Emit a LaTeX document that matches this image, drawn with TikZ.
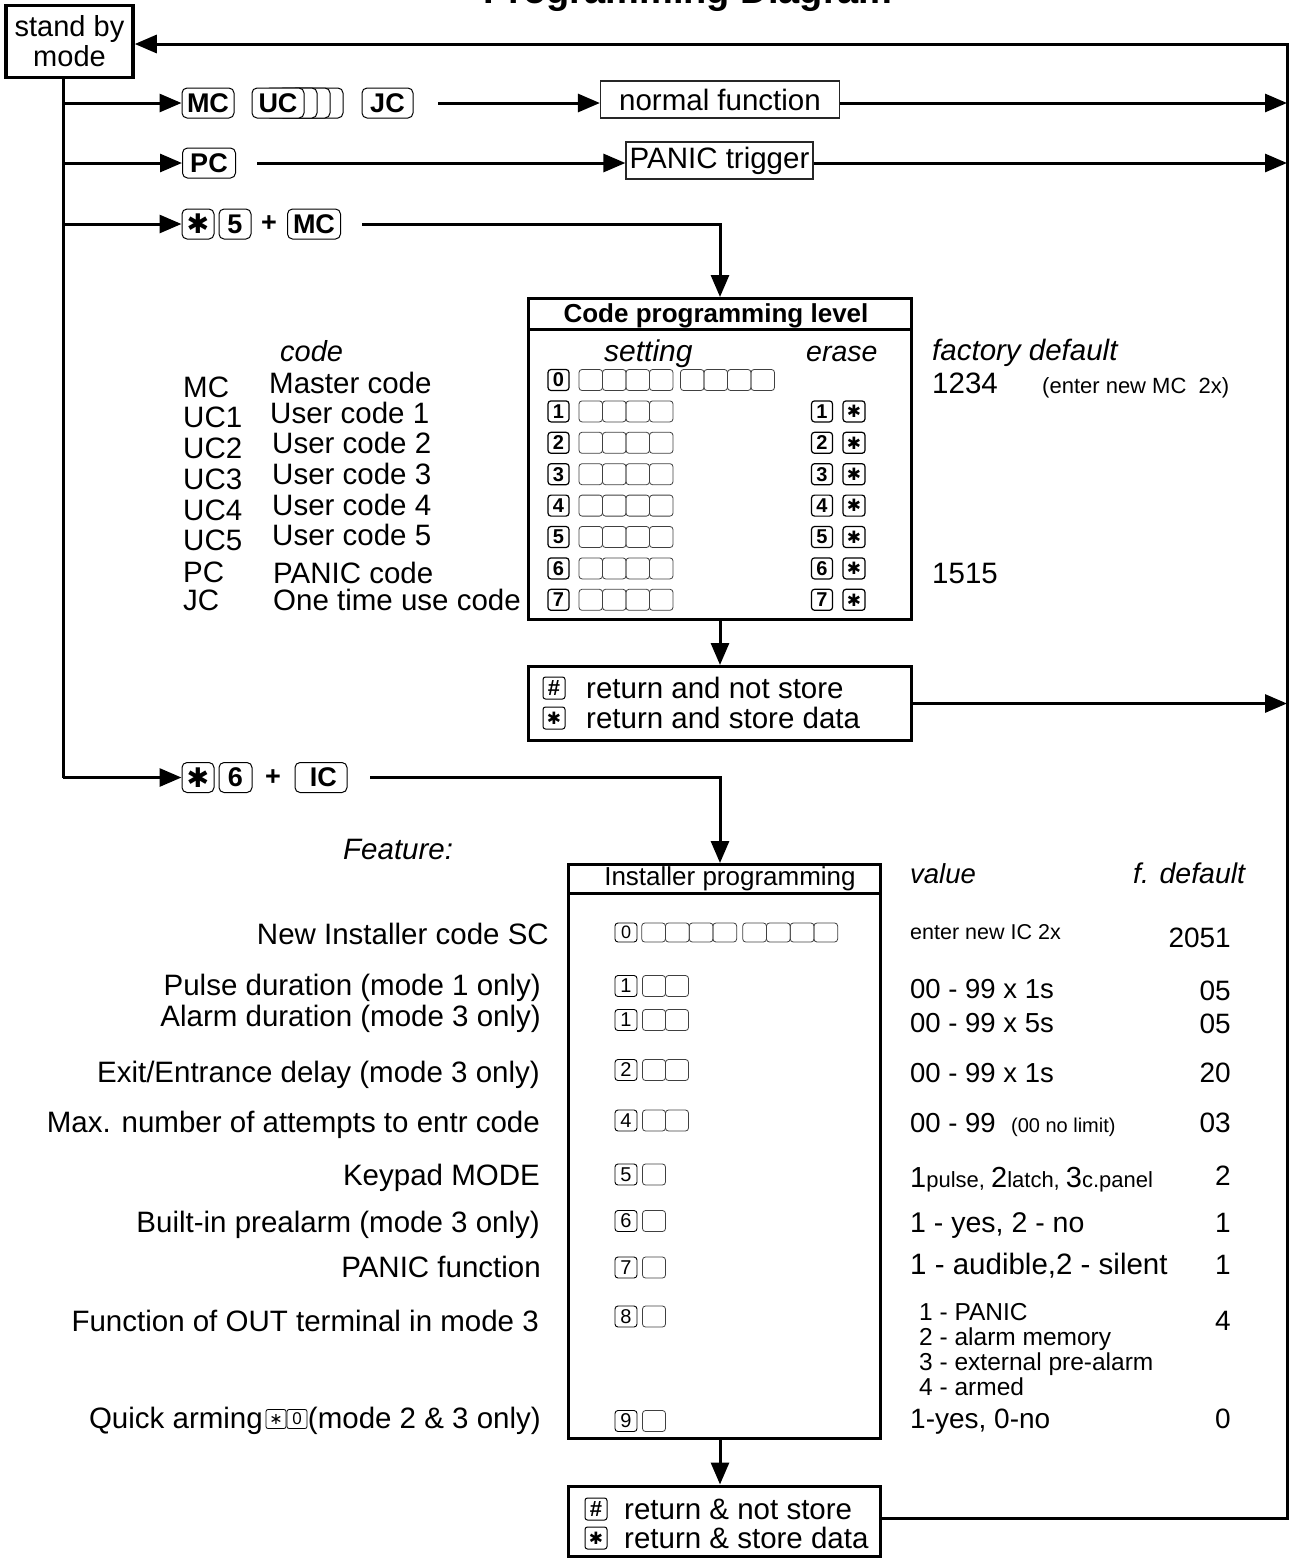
\documentclass[tikz,border=0pt]{standalone}
\usepackage{fontspec}
\setmainfont{Liberation Sans}
\newfontfamily\djv{DejaVu Sans}
\usetikzlibrary{arrows.meta}
\newcommand{\myfs}[1]{\fontsize{#1}{#1}\selectfont}
\newcommand{\hstar}{{\djv\bfseries ✱}}
\tikzset{
  conn/.style={line width=3pt},
  arr/.style={conn, -{Triangle[length=22pt,width=18pt]}},
  bigbox/.style={draw, line width=3pt, inner sep=0pt},
  thinbox/.style={draw=black!85, line width=1.2pt, inner sep=0pt},
  txt/.style={inner sep=0pt, font=\myfs{29.5}},
  topkey/.style={draw, line width=1pt, rounded corners=5pt, fill=white, inner sep=0pt, minimum height=30pt, font=\bfseries\myfs{27}},
  ckey/.style={draw, line width=1.2pt, rounded corners=3pt, inner sep=0pt, minimum width=21pt, minimum height=21pt, font=\bfseries\myfs{20}},
  cbox/.style={draw=black!75, line width=0.8pt, rounded corners=3pt, inner sep=0pt, minimum width=23.5pt, minimum height=21pt},
  ikey/.style={draw, line width=0.9pt, rounded corners=3pt, inner sep=0pt, minimum width=22pt, minimum height=21pt, font=\myfs{20}},
  ibox/.style={draw=black!75, line width=0.8pt, rounded corners=3pt, inner sep=0pt, minimum width=23pt, minimum height=21pt},
  rkey/.style={draw, line width=1pt, rounded corners=2.5pt, inner sep=0pt, minimum width=22pt, minimum height=22pt, font=\bfseries\myfs{22}},
}
\begin{document}
\begin{tikzpicture}[x=1pt,y=-1pt]
\useasboundingbox (0,0) rectangle (1289,1559);

% title
\node[anchor=base, inner sep=0pt, font=\bfseries\myfs{38}] (title) at (688,3) {Programming Diagram};

% stand by
\node[bigbox, line width=3.5pt, minimum width=127pt, minimum height=72pt, align=center, font=\fontsize{29}{30}\selectfont] (standby) at (69.5,41.5) {stand by\\mode};

% coordinates
\coordinate (rail) at (1287,44);
\coordinate (b4) at (63,777.5);
\coordinate (dn) at (720,0);

% row 1
\node[topkey, minimum width=52pt] (mc1) at (208,103) {MC};
\node[topkey, minimum width=52pt] (ucc) at (317,103) {};
\node[topkey, minimum width=52pt] (ucb) at (304,103) {};
\node[topkey, minimum width=52pt] (uca) at (291,103) {};
\node[topkey, minimum width=52pt] (uc) at (278,103) {UC};
\node[topkey, minimum width=51pt] (jc) at (387.5,103) {JC};
\coordinate (r1s) at (438,103);
\node[thinbox, minimum width=239pt, minimum height=37pt, font=\myfs{29.5}] (nf) at (720,99.5) {normal function};

% row 2
\node[topkey, minimum width=53pt] (pc) at (209,163) {PC};
\coordinate (r2s) at (257,163);
\node[thinbox, minimum width=187pt, minimum height=37pt, font=\myfs{29.5}] (pt) at (719.5,160.5) {PANIC trigger};

% row 3
\node[topkey, minimum width=32pt] (st1) at (198,224) {\hstar};
\node[topkey, minimum width=32pt] (k5) at (235,224) {5};
\node[inner sep=0pt, font=\bfseries\myfs{27}] (pl1) at (269,224) {+};
\node[topkey, minimum width=53pt] (mc2) at (314,224) {MC};
\coordinate (r3s) at (362,224);

% row 4
\node[topkey, minimum width=32pt] (st2) at (198,777.5) {\hstar};
\node[topkey, minimum width=33pt] (k6) at (235.5,777.5) {6};
\node[inner sep=0pt, font=\bfseries\myfs{27}] (pl2) at (273,777.5) {+};
\node[topkey, minimum width=52pt] (ic) at (321,777.5) {\,IC};
\coordinate (r4s) at (370,777.5);

% ---------- code programming box ----------
\node[bigbox, minimum width=383pt, minimum height=321pt] (cpl) at (720,459) {};
\coordinate (csep) at (0,329);
\draw[line width=3pt] (cpl.west |- csep) -- (cpl.east |- csep);
\node[anchor=base, inner sep=0pt, font=\bfseries\myfs{26}] (cplh) at (716,322) {Code programming level};
\node[anchor=base west, inner sep=0pt, font=\itshape\myfs{30}] (setting) at (604,361) {setting};
\node[anchor=base west, inner sep=0pt, font=\itshape\myfs{28.5}] (erase) at (806,361) {erase};

\foreach \i in {0,...,7} {
  \pgfmathsetmacro\yy{380+31.4*\i}
  \node[ckey] (cd\i) at (558.5,\yy) {\i};
  \foreach \j/\xx in {1/590.75,2/614.25,3/637.75,4/661.25}
    \node[cbox] (cb\i-\j) at (\xx,\yy) {};
}
\foreach \j/\xx in {5/692.25,6/715.75,7/739.25,8/762.75}
  \node[cbox] (cb0-\j) at (\xx,380) {};
\foreach \i in {1,...,7} {
  \pgfmathsetmacro\yy{380+31.4*\i}
  \node[ckey] (ce\i) at (822,\yy) {\i};
  \node[ckey, minimum width=22pt, font=\djv\bfseries\myfs{17}] (cs\i) at (854,\yy) {✱};
}

% left code labels
\node[anchor=base west, txt, font=\itshape\myfs{29}] (lcode) at (280,361) {code};
\foreach \n/\ab/\ya/\xb/\lab/\yb in {
  a/MC/397/269/Master code/393,
  b/UC1/427/270/User code 1/423,
  c/UC2/458/272/User code 2/453,
  d/UC3/489/272/User code 3/484,
  e/UC4/520/272/User code 4/515,
  f/UC5/550/272/User code 5/545,
  g/PC/582/273/PANIC code/583,
  h/JC/610/273/One time use code/610} {
  \node[anchor=base west, txt] (ab\n) at (183,\ya) {\ab};
  \node[anchor=base west, txt] (lb\n) at (\xb,\yb) {\lab};
}

% factory defaults
\node[anchor=base west, txt, font=\itshape\myfs{29.5}] (fdef) at (932,360) {factory default};
\node[anchor=base west, txt] (f1234) at (932,393) {1234};
\node[anchor=base west, inner sep=0pt, font=\myfs{22}] (fmc) at (1042,393) {(enter new MC~~2x)};
\node[anchor=base west, txt] (f1515) at (932,583) {1515};

% return box 1
\node[bigbox, minimum width=383pt, minimum height=74pt] (rb1) at (720,703.5) {};
\node[rkey] (rh1) at (554,688) {\#};
\node[rkey, font=\djv\bfseries\myfs{17}] (rs1) at (554,718) {✱};
\node[anchor=base west, txt] (rt1) at (586,698) {return and not store};
\node[anchor=base west, txt] (rt2) at (586,728) {return and store data};

% ---------- installer box ----------
\node[anchor=base west, txt, font=\itshape\myfs{29.5}] (feat) at (343,859) {Feature:};
\node[bigbox, minimum width=312pt, minimum height=574pt] (inst) at (724.5,1151.5) {};
\coordinate (isep) at (0,893);
\draw[line width=3pt] (inst.west |- isep) -- (inst.east |- isep);
\node[anchor=base, inner sep=0pt, font=\myfs{26}] (insth) at (730,885) {Installer programming};

\node[ikey, minimum height=19pt, font=\myfs{18}] (ik0) at (626,932.5) {0};
\foreach \j/\xx in {1/653.6,2/677.3,3/701.1,4/724.8,5/754.6,6/778.3,7/802.1,8/825.8}
  \node[ibox, minimum width=23.7pt, minimum height=19pt] (ib0-\j) at (\xx,932.5) {};
\foreach \k/\d/\yy/\n in {1/1/986/2, 2/1/1020/2, 3/2/1070/2, 4/4/1120.5/2, 5/5/1174.5/1, 6/6/1221/1, 7/7/1267.5/1, 8/8/1316.5/1, 9/9/1421/1} {
  \node[ikey] (ik\k) at (626,\yy) {\d};
  \foreach \m in {1,...,\n}
    \node[ibox] (ib\k-\m) at ({631+23*\m},\yy) {};
}

% installer labels
\foreach \n/\xx/\yy/\lab in {
  a/549/944/New Installer code SC,
  b/541/995/Pulse duration (mode 1 only),
  c/541/1026/Alarm duration (mode 3 only),
  d/540/1082/Exit\slash Entrance delay (mode 3 only),
  e/540/1132/Max. number of attempts to entr code,
  f/540/1185/Keypad MODE,
  g/540/1232/Built-in prealarm (mode 3 only),
  h/541/1277/PANIC function,
  i/539/1331/Function of OUT terminal in mode 3} {
  \node[anchor=base east, txt] (il\n) at (\xx,\yy) {\lab};
}
\node[anchor=base east, txt] (qa2) at (541,1428) {(mode 2 \& 3 only)};
\node[draw, line width=0.8pt, rounded corners=2pt, inner sep=0pt, minimum width=20pt, minimum height=19pt, font=\myfs{17}] (qk2) at (297,1419) {0};
\node[draw, line width=0.8pt, rounded corners=2pt, inner sep=0pt, minimum width=20pt, minimum height=19pt, font=\djv\myfs{16}] (qk1) at (276,1419) {∗};
\node[anchor=base east, txt] (qa1) at (263,1428) {Quick arming};

% value column
\node[anchor=base west, inner sep=0pt, font=\itshape\myfs{27.5}] (vhead) at (910,883) {value};
\node[anchor=base west, inner sep=0pt, font=\itshape\myfs{28.5}] (dhead) at (1133,883) {f. default};
\node[anchor=base west, inner sep=0pt, font=\myfs{21.5}] (v0) at (910,939) {enter new IC 2x};
\node[anchor=base west, inner sep=0pt, font=\myfs{27.5}] (v1) at (910,998) {00 - 99 x 1s};
\node[anchor=base west, inner sep=0pt, font=\myfs{27.5}] (v2) at (910,1032) {00 - 99 x 5s};
\node[anchor=base west, inner sep=0pt, font=\myfs{27.5}] (v3) at (910,1082) {00 - 99 x 1s};
\node[anchor=base west, inner sep=0pt, font=\myfs{27.5}] (v4) at (910,1132) {00 - 99~~{\myfs{20}(00 no limit)}};
\node[anchor=base west, inner sep=0pt, font=\myfs{29}] (v5) at (910,1187) {1{\myfs{22}pulse, }2{\myfs{22}latch, }3{\myfs{22}c.panel}};
\node[anchor=base west, inner sep=0pt, font=\myfs{28.5}] (v6) at (910,1232) {1 - yes, 2 - no};
\node[anchor=base west, inner sep=0pt, font=\myfs{29.5}] (v7) at (910,1274) {1 - audible,2 - silent};
\node[anchor=base west, inner sep=0pt, font=\myfs{24.5}] (v8a) at (919,1320) {1 - PANIC};
\node[anchor=base west, inner sep=0pt, font=\myfs{24.5}] (v8b) at (919,1345) {2 - alarm memory};
\node[anchor=base west, inner sep=0pt, font=\myfs{24.5}] (v8c) at (919,1370) {3 - external pre-alarm};
\node[anchor=base west, inner sep=0pt, font=\myfs{24.5}] (v8d) at (919,1395) {4 - armed};
\node[anchor=base west, inner sep=0pt, font=\myfs{28}] (v9) at (910,1428) {1-yes, 0-no};

\foreach \n/\yy/\val in {a/947/2051, b/1000/05, c/1033/05, d/1082/20, e/1132/03, f/1185/2, g/1232/1, h/1274/1, i/1330/4, j/1428/0}
  \node[anchor=base east, inner sep=0pt, font=\myfs{28}] (fd\n) at (1231,\yy) {\val};

% return box 2
\node[bigbox, minimum width=312pt, minimum height=70pt] (rb2) at (724.5,1521) {};
\node[rkey] (rh2) at (596,1509) {\#};
\node[rkey, font=\djv\bfseries\myfs{17}] (rs2) at (596,1538) {✱};
\node[anchor=base west, txt] (rt3) at (624,1519) {return \& not store};
\node[anchor=base west, txt] (rt4) at (624,1548) {return \& store data};

% ---------- connectors ----------
\draw[conn] (standby.south -| b4) -- (b4);
\draw[arr] (b4 |- mc1) -- (mc1.west);
\draw[arr] (b4 |- pc) -- (pc.west);
\draw[arr] (b4 |- st1) -- (st1.west);
\draw[arr] (b4) -- (st2.west);

\draw[arr] (r1s) -- (r1s -| nf.west);
\draw[arr] (nf.east |- r1s) -- (r1s -| rail);
\draw[arr] (r2s) -- (r2s -| pt.west);
\draw[arr] (pt.east |- r2s) -- (r2s -| rail);

\draw[arr] (r3s) -- (r3s -| dn) -- (dn |- cpl.north);
\draw[arr] (dn |- cpl.south) -- (dn |- rb1.north);
\draw[arr] (rb1.east) -- (rb1.east -| rail);

\draw[arr] (r4s) -- (r4s -| dn) -- (dn |- inst.north);
\draw[arr] (dn |- inst.south) -- (dn |- rb2.north);

\coordinate (r9) at (0,1518);
\draw[arr] (rb2.east |- r9) -- (rail |- r9) -- (rail) -- (rail -| standby.east);
\end{tikzpicture}
\end{document}
